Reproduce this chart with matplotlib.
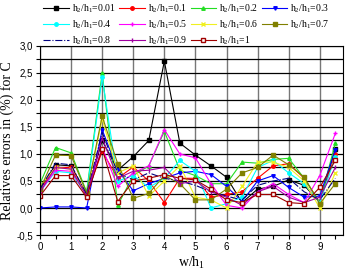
import matplotlib
matplotlib.use('Agg')
import matplotlib.pyplot as plt
from matplotlib.ticker import MultipleLocator, FuncFormatter

plt.rcParams['mathtext.fontset'] = 'custom'
plt.rcParams['mathtext.rm'] = 'Liberation Serif'
plt.rcParams['mathtext.it'] = 'Liberation Serif'

x = [0, 0.5, 1, 1.5, 2, 2.5, 3, 3.5, 4, 4.5, 5, 5.5, 6, 6.5, 7, 7.5, 8, 8.5, 9, 9.5]

r001 = [0.35, 0.80, 0.78, 0.25, 1.25, 0.70, 0.95, 1.25, 2.72, 1.20, 0.98, 0.78, 0.57, 0.10, 0.35, 0.40, 0.52, 0.42, 0.10, 1.10]
r01 = [0.35, 0.75, 0.75, 0.25, 1.05, 0.55, 0.76, 0.50, 0.10, 0.55, 0.55, 0.20, 0.25, 0.30, 0.55, 0.78, 0.82, 0.55, 0.10, 1.00]
r02 = [0.45, 1.12, 1.02, 0.30, 2.50, 0.05, 0.60, 0.78, 1.42, 0.70, 0.60, 0.45, 0.45, 0.85, 0.83, 0.90, 0.92, 0.55, 0.10, 1.20]
r03 = [0.00, 0.02, 0.02, 0.00, 1.45, 0.70, 0.32, 0.45, 0.55, 0.65, 0.68, 0.62, 0.40, 0.12, 0.50, 0.60, 0.38, 0.20, 0.22, 1.08]
r04 = [0.30, 0.68, 0.65, 0.25, 2.42, 0.50, 0.60, 0.38, 0.55, 0.88, 0.68, 0.00, 0.08, 0.20, 0.75, 0.88, 0.65, 0.45, 0.10, 0.95]
r05 = [0.30, 0.70, 0.68, 0.25, 1.12, 0.40, 0.65, 0.78, 1.45, 1.00, 0.93, 0.45, 0.05, 0.00, 0.30, 0.45, 0.25, 0.10, 0.60, 1.38]
r06 = [0.40, 0.75, 0.72, 0.25, 1.65, 0.65, 0.78, 0.22, 0.50, 0.78, 0.20, 0.15, 0.00, 0.40, 0.85, 0.85, 0.75, 0.50, 0.00, 0.65]
r07 = [0.35, 0.98, 0.97, 0.28, 1.70, 0.82, 0.18, 0.27, 0.60, 0.45, 0.15, 0.15, 0.35, 0.65, 0.75, 0.98, 0.80, 0.57, 0.08, 0.45]
r08 = [0.35, 0.83, 0.80, 0.25, 1.40, 0.65, 0.52, 0.65, 0.55, 0.50, 0.42, 0.30, 0.22, 0.15, 0.42, 0.50, 0.55, 0.30, 0.15, 0.55]
r09 = [0.30, 0.75, 0.72, 0.22, 1.30, 0.55, 0.68, 0.70, 0.75, 0.45, 0.50, 0.30, 0.20, 0.05, 0.30, 0.40, 0.20, 0.10, 0.20, 0.75]
r1 = [0.22, 0.60, 0.60, 0.20, 1.10, 0.12, 0.50, 0.55, 0.62, 0.55, 0.52, 0.35, 0.15, 0.10, 0.25, 0.25, 0.10, 0.08, 0.38, 0.88]

ratios = ['0.01', '0.1', '0.2', '0.3', '0.4', '0.5', '0.6', '0.7', '0.8', '0.9', '1']
series = [r001, r01, r02, r03, r04, r05, r06, r07, r08, r09, r1]
colors = ['black', 'red', '#22dd22', 'blue', 'cyan', 'magenta', '#f0f020', '#808000', '#000080', '#a000a0', '#a00000']
markers = ['s', 'o', '^', 'v', 'o', '+', 'x', 's', '', '|', 's']
styles = ['-'] * 8 + ['-.', '-', '-']

fig = plt.figure(figsize=(3.49, 2.72), dpi=100)
ax = fig.add_axes([0.1146, 0.136, 0.8684, 0.695])

handles = []
for s, c, m, ls, r in zip(series, colors, markers, styles, ratios):
    face = 'white' if r == '1' else c
    h, = ax.plot(x, s, color=c, marker=m, ls=ls, lw=0.8, ms=2.5, mfc=face, mec=c,
                 label='h$_2$/h$_1$=' + r)
    handles.append(h)

ax.set_xlim(0, 9.75)
ax.set_ylim(-0.5, 3.0)
ax.xaxis.set_major_locator(MultipleLocator(1))
ax.xaxis.set_minor_locator(MultipleLocator(0.5))
ax.yaxis.set_major_locator(MultipleLocator(0.5))
ax.yaxis.set_minor_locator(MultipleLocator(0.25))
ax.yaxis.set_major_formatter(FuncFormatter(lambda v, p: ('%.1f' % v).replace('.', ',')))
ax.grid(True, which='major', axis='x', color='#777777', lw=1.0)
ax.grid(True, which='both', axis='y', color='black', lw=0.9)
ax.tick_params(which='both', direction='out', labelsize=7, length=3, width=0.8,
               top=False, right=False, pad=2)
for lab in ax.get_xticklabels() + ax.get_yticklabels():
    lab.set_family('Liberation Sans')

ax.set_xlabel('w/h$_1$', family='Liberation Serif', fontsize=10, labelpad=2)
ax.set_ylabel('Relatives errors in (%) for C', family='Liberation Serif', fontsize=10, labelpad=2)

order = [0, 4, 8, 1, 5, 9, 2, 6, 10, 3, 7]
leg = fig.legend([handles[i] for i in order], [handles[i].get_label() for i in order],
                 ncol=4, loc='upper left', bbox_to_anchor=(0.105, 1.015), frameon=False,
                 prop={'family': 'Liberation Serif', 'size': 7}, handlelength=2.6,
                 columnspacing=0.4, handletextpad=0.3, labelspacing=0.35, borderpad=0.2)

fig.savefig('out.png', dpi=100)
